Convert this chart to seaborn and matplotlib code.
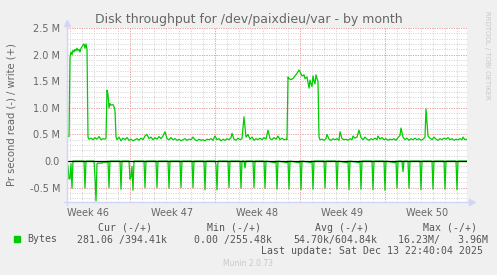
import numpy as np
import pandas as pd
import matplotlib
matplotlib.use("Agg")
import matplotlib.pyplot as plt
import seaborn as sns

sns.set_theme(style="white")
plt.rcParams["font.family"] = ["DejaVu Sans"]

# ---- data (time in 1.98-hour sample slots from the start of the graph) ----
SLOT_HOURS = 1.98
TOTAL_SLOTS = 400

write_slot = [0, 2, 3, 4, 5, 6, 7, 8, 9, 10, 11, 12, 13, 14, 15, 16, 17, 18, 19, 20,
              21, 22, 24, 26, 28, 30, 32, 34, 36, 38, 39, 40, 41, 42, 43, 44, 46, 47, 48,
              49, 50, 52, 54, 56, 58, 60, 62, 64, 66, 68, 70, 72, 74, 76, 78, 80, 82, 84,
              86, 88, 90, 92, 94, 96, 98, 100, 102, 104, 106, 108, 110, 112, 114, 116, 118,
              120, 122, 124, 126, 128, 130, 132, 134, 136, 138, 140, 142, 144, 146, 148,
              150, 152, 154, 156, 158, 160, 162, 164, 165, 167, 169, 171, 173, 175, 177,
              179, 181, 183, 185, 187, 189, 191, 193, 195, 197, 199, 201, 203, 205, 207,
              209, 211, 213, 215, 217, 219, 220, 221, 222, 224, 226, 228, 230, 232, 233,
              235, 237, 238, 240, 242, 243, 244, 245, 246, 247, 248, 249, 250, 251, 252,
              253, 255, 257, 259, 260, 262, 264, 266, 268, 270, 272, 273, 275, 277, 279,
              281, 283, 285, 286, 288, 290, 292, 294, 296, 298, 300, 302, 304, 306, 308,
              310, 311, 313, 315, 317, 319, 321, 323, 325, 327, 329, 331, 333, 334, 336,
              338, 340, 342, 344, 346, 348, 350, 352, 354, 356, 358, 359, 361, 363, 365,
              367, 369, 371, 373, 375, 377, 379, 381, 383, 385, 387, 389, 391, 393, 395,
              396, 398, 400]
write_mbytes = [0.47, 0.46, 1.95, 2.05, 2.00, 2.08, 2.05, 2.10, 2.07, 2.12, 2.08, 2.10,
                2.05, 2.12, 2.15, 2.18, 2.20, 2.12, 2.20, 2.10,
                0.45, 0.41, 0.43, 0.40, 0.44, 0.41, 0.46, 0.40, 0.42, 0.41, 0.43, 1.33,
                1.25, 1.00, 1.08, 1.05, 1.06, 1.02, 0.95,
                0.45, 0.40, 0.45, 0.38, 0.43, 0.40, 0.44, 0.39, 0.41, 0.38, 0.40, 0.42,
                0.39, 0.43, 0.40, 0.47, 0.50, 0.42, 0.45,
                0.40, 0.44, 0.41, 0.46, 0.42, 0.47, 0.55, 0.42, 0.40, 0.44, 0.40, 0.42,
                0.39, 0.41, 0.38, 0.40, 0.42,
                0.39, 0.41, 0.40, 0.45, 0.40, 0.38, 0.41, 0.39, 0.40, 0.38, 0.41, 0.40,
                0.42, 0.39, 0.47,
                0.40, 0.42, 0.38, 0.41, 0.39, 0.42, 0.40, 0.44, 0.52, 0.41, 0.39, 0.43,
                0.40, 0.42, 0.83,
                0.45, 0.50, 0.41, 0.45, 0.39, 0.42, 0.40, 0.43, 0.40, 0.44, 0.41, 0.58,
                0.42, 0.40, 0.44,
                0.41, 0.47, 0.40, 0.43, 0.40, 0.41, 0.40, 1.58, 1.55, 1.53, 1.55, 1.60,
                1.65, 1.71, 1.68,
                1.60, 1.62, 1.55, 1.58, 1.37, 1.52, 1.45, 1.40, 1.60, 1.50, 1.45, 1.62,
                1.55, 1.50, 0.45,
                0.40, 0.41, 0.39, 0.42, 0.50, 0.41, 0.39, 0.42, 0.40, 0.42, 0.39, 0.55,
                0.42, 0.40, 0.41,
                0.39, 0.42, 0.40, 0.47, 0.43, 0.45, 0.58, 0.44, 0.40, 0.45, 0.41, 0.39,
                0.42, 0.40, 0.43,
                0.40, 0.47, 0.41, 0.44, 0.40, 0.42, 0.39, 0.41, 0.40, 0.42, 0.39, 0.44,
                0.48, 0.62, 0.45,
                0.40, 0.43, 0.39, 0.42, 0.40, 0.43, 0.40, 0.42, 0.39, 0.41, 0.45, 0.98,
                0.47, 0.43, 0.40,
                0.45, 0.41, 0.39, 0.42, 0.40, 0.43, 0.41, 0.44, 0.40, 0.42, 0.39, 0.41,
                0.40, 0.42, 0.40,
                0.45, 0.40, 0.41]

read_slot = [0, 1, 2, 3, 4, 5, 6,
             17, 18, 19,
             27, 28, 29, 30, 31, 35, 36, 40, 41, 42, 43,
             53, 54, 55,
             62, 63, 64, 65, 66, 67,
             77, 78, 79, 89, 90, 91, 101, 102, 103, 113, 114, 115, 125, 126, 127,
             137, 138, 139, 148, 149, 150, 151, 161, 162, 163,
             173, 174, 175, 177, 178, 179, 186, 187, 188, 197, 198, 199,
             208, 209, 210, 211, 220, 221, 222, 223, 232, 233, 234, 235,
             244, 245, 246, 247, 257, 258, 259, 269, 270, 271,
             280, 281, 282, 283, 292, 293, 294, 295, 305, 306, 307, 317, 318, 319,
             328, 329, 330, 331, 335, 336, 337, 341, 342, 343, 353, 354, 355,
             365, 366, 367, 377, 378, 379, 389, 390, 391, 400]
read_mbytes = [0.02, 0.10, 0.34, 0.33, 0.05, 0.51, 0.0,
               0.0, 0.51, 0.0,
               0.0, 0.30, 0.75, 0.05, 0.04, 0.04, 0.02, 0.02, 0.0, 0.50, 0.0,
               0.0, 0.53, 0.0,
               0.0, 0.34, 0.30, 0.10, 0.55, 0.0,
               0.0, 0.50, 0.0, 0.0, 0.50, 0.0, 0.0, 0.51, 0.0, 0.0, 0.50, 0.0, 0.0, 0.50, 0.0,
               0.0, 0.54, 0.0, 0.0, 0.07, 0.54, 0.0, 0.0, 0.50, 0.0,
               0.0, 0.51, 0.0, 0.0, 0.13, 0.0, 0.0, 0.50, 0.0, 0.0, 0.51, 0.0,
               0.03, 0.0, 0.53, 0.0, 0.03, 0.0, 0.53, 0.0, 0.03, 0.0, 0.54, 0.0,
               0.03, 0.0, 0.53, 0.0, 0.0, 0.51, 0.0, 0.0, 0.53, 0.0,
               0.03, 0.0, 0.54, 0.0, 0.03, 0.0, 0.53, 0.0, 0.0, 0.54, 0.0, 0.0, 0.55, 0.0,
               0.03, 0.0, 0.51, 0.0, 0.0, 0.20, 0.0, 0.0, 0.51, 0.0, 0.0, 0.54, 0.0,
               0.0, 0.53, 0.0, 0.0, 0.53, 0.0, 0.0, 0.54, 0.0, 0.0003]

week_labels = ["Week 46", "Week 47", "Week 48", "Week 49", "Week 50"]
first_week_boundary_h = 125          # Monday 00:00 of week 47, hours after start
y_tick_values = [-0.5, 0.0, 0.5, 1.0, 1.5, 2.0, 2.5]
y_tick_labels = ["-0.5 M", "0.0", "0.5 M", "1.0 M", "1.5 M", "2.0 M", "2.5 M"]

title = "Disk throughput for /dev/paixdieu/var - by month"
ylabel = "Pr second read (-) / write (+)"
legend_headers = ["Cur (-/+)", "Min (-/+)", "Avg (-/+)", "Max (-/+)"]
legend_values = ["281.06 /394.41k", "0.00 /255.48k", "54.70k/604.84k", "16.23M/   3.96M"]
last_update = "Last update: Sat Dec 13 22:40:04 2025"
munin_ver = "Munin 2.0.73"

# ---- build frames ----
wdf = pd.DataFrame({"hours": np.array(write_slot) * SLOT_HOURS,
                    "value": np.array(write_mbytes) * 1e6})
rdf = pd.DataFrame({"hours": np.array(read_slot) * SLOT_HOURS,
                    "value": -np.array(read_mbytes) * 1e6})

W, H = 497, 275
FONT = "#666666"
GREEN = "#00cc00"
fig = plt.figure(figsize=(W / 100, H / 100), dpi=100, facecolor="#f0f0f0")
L, R, T, B = 67, 467, 28, 202
ax = fig.add_axes([L / W, 1 - B / H, (R - L) / W, (B - T) / H])
ax.set_facecolor("white")

xmax = TOTAL_SLOTS * SLOT_HOURS
ymin, ymax = -0.77e6, 2.5e6
ax.set_xlim(0, xmax)
ax.set_ylim(ymin, ymax)

grid_kw = dict(linewidth=0.72, linestyle=(0, (1, 1.4)), zorder=1)
# minor grid: days and 0.1 M
d = first_week_boundary_h % 24
while d < xmax:
    ax.axvline(d, color="#d4d4d4", **grid_kw)
    d += 24
for v in np.arange(-0.7, 2.51, 0.1):
    ax.axhline(v * 1e6, color="#d4d4d4", **grid_kw)
# major grid: weeks and 0.5 M
wk = first_week_boundary_h
while wk < xmax:
    ax.axvline(wk, color="#f29a9a", **grid_kw)
    wk += 168
for v in y_tick_values:
    ax.axhline(v * 1e6, color="#f29a9a", **grid_kw)

sns.lineplot(data=wdf, x="hours", y="value", ax=ax, color=GREEN, linewidth=0.9,
             zorder=3, estimator=None)
sns.lineplot(data=rdf, x="hours", y="value", ax=ax, color=GREEN, linewidth=0.9,
             zorder=3, estimator=None)
ax.axhline(0, color="black", linewidth=0.9, zorder=4)

# ticks
label_pos = [first_week_boundary_h - 84 + 168 * i for i in range(len(week_labels))]
ax.set_xticks(label_pos)
ax.set_xticklabels(week_labels)
ax.set_yticks([v * 1e6 for v in y_tick_values])
ax.set_yticklabels(y_tick_labels)
ax.tick_params(axis="both", length=0, labelsize=7, colors=FONT)
ax.tick_params(axis="y", pad=5)
ax.tick_params(axis="x", pad=4)
ax.set_xlabel("")
ax.set_ylabel("")
for s in ax.spines.values():
    s.set_visible(False)

# axes with arrows
AX = "#cfd6f8"
ax.plot([-0.008, 1.012], [0, 0], transform=ax.transAxes, color=AX, lw=1, clip_on=False, zorder=5)
ax.plot([0, 0], [-0.02, 1.03], transform=ax.transAxes, color=AX, lw=1, clip_on=False, zorder=5)
ax.plot([1.012], [0], transform=ax.transAxes, marker=">", ms=4, color=AX, clip_on=False, zorder=5)
ax.plot([0], [1.03], transform=ax.transAxes, marker="^", ms=4, color=AX, clip_on=False, zorder=5)

def ft(x, y, s, **kw):
    fig.text(x / W, 1 - y / H, s, **kw)

ft(248.5, 19, title, ha="center", va="center", fontsize=9, color=FONT)
ft(12, 115, ylabel, ha="center", va="center", rotation=90, fontsize=7.2, color=FONT)
ft(487, 55, "RRDTOOL / TOBI OETIKER", ha="center", va="center", rotation=270,
   fontsize=5, color="#c8c8c8")

mono = dict(family="DejaVu Sans Mono", fontsize=7.1, color="#555555", va="center")
for hx, h in zip([98, 207, 315, 423], legend_headers):
    ft(hx, 228, h, ha="left", **mono)
fig.patches.append(plt.Rectangle((14 / W, 1 - 242 / H), 6 / W, 6 / H,
                                 transform=fig.transFigure, color=GREEN))
ft(27, 239.5, "Bytes", ha="left", **mono)
for vx, v in zip([77, 194, 293, 398], legend_values):
    ft(vx, 239.5, v, ha="left", **mono)
ft(483, 251.5, last_update, ha="right", **mono)
ft(248, 264, munin_ver, ha="center", va="center", fontsize=5.5, color="#c8c8c8")

fig.savefig("out.png", dpi=100, facecolor=fig.get_facecolor())
